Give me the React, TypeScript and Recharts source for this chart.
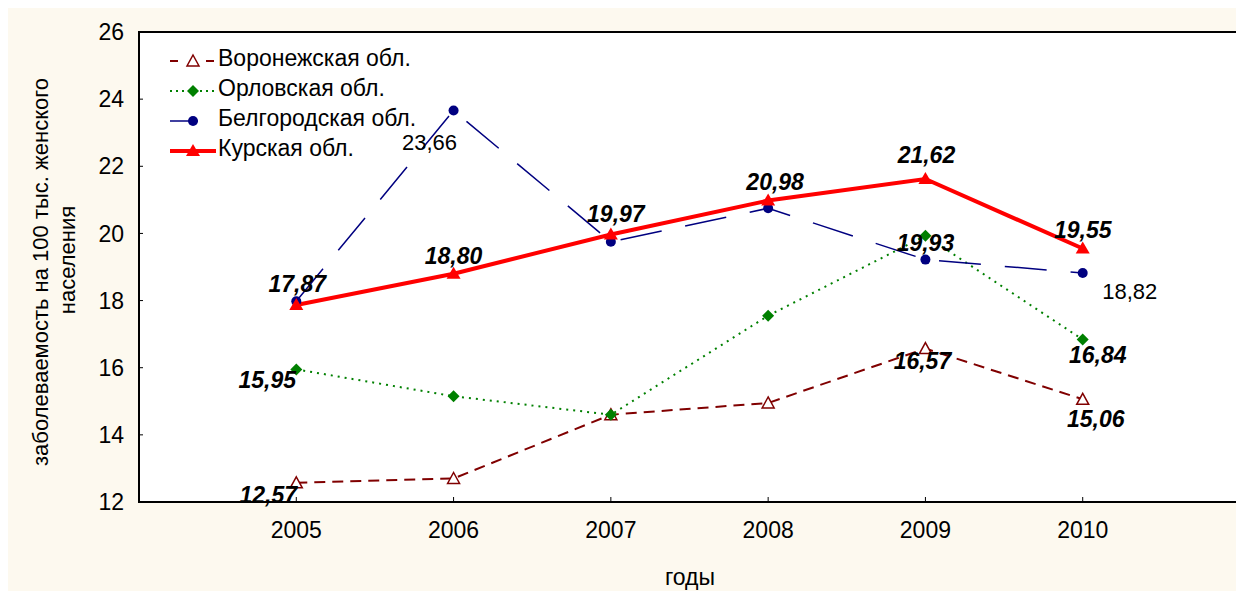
import React from 'react';
import { LineChart, Line, XAxis, YAxis, LabelList } from 'recharts';

const years = [2005, 2006, 2007, 2008, 2009, 2010];
const voronezh = [12.57, 12.7, 14.6, 14.95, 16.57, 15.06];
const orel = [15.95, 15.15, 14.6, 17.55, 19.93, 16.84];
const belgorod = [17.98, 23.66, 19.75, 20.75, 19.22, 18.82];
const kursk = [17.87, 18.8, 19.97, 20.98, 21.62, 19.55];
const yTicks = [12, 14, 16, 18, 20, 22, 24, 26];

const names = {
  voronezh: 'Воронежская обл.',
  orel: 'Орловская обл.',
  belgorod: 'Белгородская обл.',
  kursk: 'Курская обл.',
};

const data = years.map((year, i) => ({
  year,
  voronezh: voronezh[i],
  orel: orel[i],
  belgorod: belgorod[i],
  kursk: kursk[i],
}));

const FONT = '"Liberation Sans", Arial, sans-serif';
const fmt = (v: number) => v.toFixed(2).replace('.', ',');

// label offsets (dx, dy) from the point, by point index
type Off = Record<number, [number, number]>;
const kurskOff: Off = { 0: [1, -21], 1: [0, -18], 2: [5, -20], 3: [7, -19], 4: [1, -24], 5: [0, -19] };
const orelOff: Off = { 0: [-29, 11], 4: [0, 7], 5: [15, 15] };
const voronezhOff: Off = { 0: [-28, 12], 4: [-3, 12], 5: [13, 20] };
const belgorodOff: Off = { 1: [-24, 32], 5: [47, 18] };

const makeLabel = (offs: Off, bold: boolean) => (props: any) => {
  const { value, index } = props;
  const x = props.x ?? props.viewBox?.x;
  const y = props.y ?? props.viewBox?.y;
  const o = offs[index];
  if (!o || x == null) return null;
  return (
    <text
      x={x + o[0]}
      y={y + o[1]}
      textAnchor="middle"
      dominantBaseline="central"
      fontFamily={FONT}
      fontSize={bold ? 23 : 22}
      fontWeight={bold ? 700 : 400}
      fontStyle={bold ? 'italic' : 'normal'}
      fill="#000"
    >
      {fmt(Number(value))}
    </text>
  );
};

const OpenTriangle = (props: any) => {
  const { cx, cy, index } = props;
  return <path key={'vt' + index} d={`M${cx},${cy - 6} L${cx + 6},${cy + 5} L${cx - 6},${cy + 5} Z`} fill="#fff" stroke="#800000" strokeWidth={1.5} />;
};
const Diamond = (props: any) => {
  const { cx, cy, index } = props;
  return <path key={'od' + index} d={`M${cx},${cy - 6} L${cx + 6},${cy} L${cx},${cy + 6} L${cx - 6},${cy} Z`} fill="#008000" />;
};
const Circle = (props: any) => {
  const { cx, cy, index } = props;
  return <circle key={'bc' + index} cx={cx} cy={cy} r={5} fill="#000080" />;
};
const RedTriangle = (props: any) => {
  const { cx, cy, index } = props;
  return <path key={'kt' + index} d={`M${cx},${cy - 7} L${cx + 7},${cy + 5} L${cx - 7},${cy + 5} Z`} fill="#ff0000" />;
};

const YTitle = () => (
  <g fontFamily={FONT} fontSize={22} fill="#000">
    <text x={32} y={264} transform="rotate(-90 32 264)" textAnchor="middle" dominantBaseline="central">
      заболеваемость на 100 тыс. женского
    </text>
    <text x={59} y={252} transform="rotate(-90 59 252)" textAnchor="middle" dominantBaseline="central">
      населения
    </text>
  </g>
);

const XTitle = () => (
  <text x={682} y={569} textAnchor="middle" dominantBaseline="central" fontFamily={FONT} fontSize={23} fill="#000">
    годы
  </text>
);

const legendRows = [
  { name: names.voronezh, icon: (
    <svg width={50} height={20}>
      <line x1={2} y1={10} x2={48} y2={10} stroke="#800000" strokeWidth={2} strokeDasharray="8 10" />
      <rect x={17} y={2} width={16} height={16} fill="#fff" />
      <path d="M25,4 L31,15 L19,15 Z" fill="#fff" stroke="#800000" strokeWidth={1.5} />
    </svg>
  ) },
  { name: names.orel, icon: (
    <svg width={50} height={20}>
      <line x1={2} y1={10} x2={48} y2={10} stroke="#008000" strokeWidth={2} strokeDasharray="2 4" />
      <path d="M25,4 L31,10 L25,16 L19,10 Z" fill="#008000" />
    </svg>
  ) },
  { name: names.belgorod, icon: (
    <svg width={50} height={20}>
      <line x1={2} y1={10} x2={30} y2={10} stroke="#000080" strokeWidth={1.5} />
      <circle cx={25} cy={10} r={5} fill="#000080" />
    </svg>
  ) },
  { name: names.kursk, icon: (
    <svg width={50} height={20}>
      <line x1={2} y1={10} x2={48} y2={10} stroke="#ff0000" strokeWidth={4} />
      <path d="M25,3 L32,15 L18,15 Z" fill="#ff0000" />
    </svg>
  ) },
];

export default function App() {
  return (
    <div style={{ width: 1236, height: 583, background: '#fdf9ef', position: 'relative', fontFamily: FONT }}>
      <LineChart width={1236} height={583} data={data} margin={{ top: 24, right: 4, bottom: 29, left: 0 }}>
        <rect x={131} y={24} width={1101} height={470} fill="#fff" stroke="#000" strokeWidth={2} />
        <XAxis
          dataKey="year"
          type="number"
          domain={[2004, 2011]}
          ticks={years}
          height={60}
          tickSize={-5}
          tickMargin={25}
          axisLine={{ stroke: '#000', strokeWidth: 2 }}
          tickLine={{ stroke: '#000' }}
          tick={{ fill: '#000', fontSize: 23, fontFamily: FONT }}
          label={<XTitle />}
        />
        <YAxis
          domain={[12, 26]}
          ticks={yTicks}
          width={131}
          tickSize={-4}
          tickMargin={19}
          axisLine={{ stroke: '#000', strokeWidth: 2 }}
          tickLine={{ stroke: '#000' }}
          tick={{ fill: '#000', fontSize: 23, fontFamily: FONT }}
          label={<YTitle />}
        />
        <Line
          dataKey="voronezh"
          name={names.voronezh}
          stroke="#800000"
          strokeWidth={2}
          strokeDasharray="11 7"
          dot={OpenTriangle}
          activeDot={false}
          isAnimationActive={false}
        >
          <LabelList dataKey="voronezh" content={makeLabel(voronezhOff, true)} />
        </Line>
        <Line
          dataKey="orel"
          name={names.orel}
          stroke="#008000"
          strokeWidth={2}
          strokeDasharray="2 5"
          dot={Diamond}
          activeDot={false}
          isAnimationActive={false}
        >
          <LabelList dataKey="orel" content={makeLabel(orelOff, true)} />
        </Line>
        <Line
          dataKey="belgorod"
          name={names.belgorod}
          stroke="#000080"
          strokeWidth={1.5}
          strokeDasharray="42 24"
          dot={Circle}
          activeDot={false}
          isAnimationActive={false}
        >
          <LabelList dataKey="belgorod" content={makeLabel(belgorodOff, false)} />
        </Line>
        <Line
          dataKey="kursk"
          name={names.kursk}
          stroke="#ff0000"
          strokeWidth={4}
          dot={RedTriangle}
          activeDot={false}
          isAnimationActive={false}
        >
          <LabelList dataKey="kursk" content={makeLabel(kurskOff, true)} />
        </Line>
      </LineChart>
      <div style={{ position: 'absolute', left: 160, top: 35, fontSize: 23, color: '#000' }}>
        {legendRows.map((r) => (
          <div key={r.name} style={{ display: 'flex', alignItems: 'center', height: 30, lineHeight: '30px' }}>
            <div style={{ width: 50, height: 20 }}>{r.icon}</div>
            <span style={{ background: '#fff' }}>{r.name}</span>
          </div>
        ))}
      </div>
    </div>
  );
}
